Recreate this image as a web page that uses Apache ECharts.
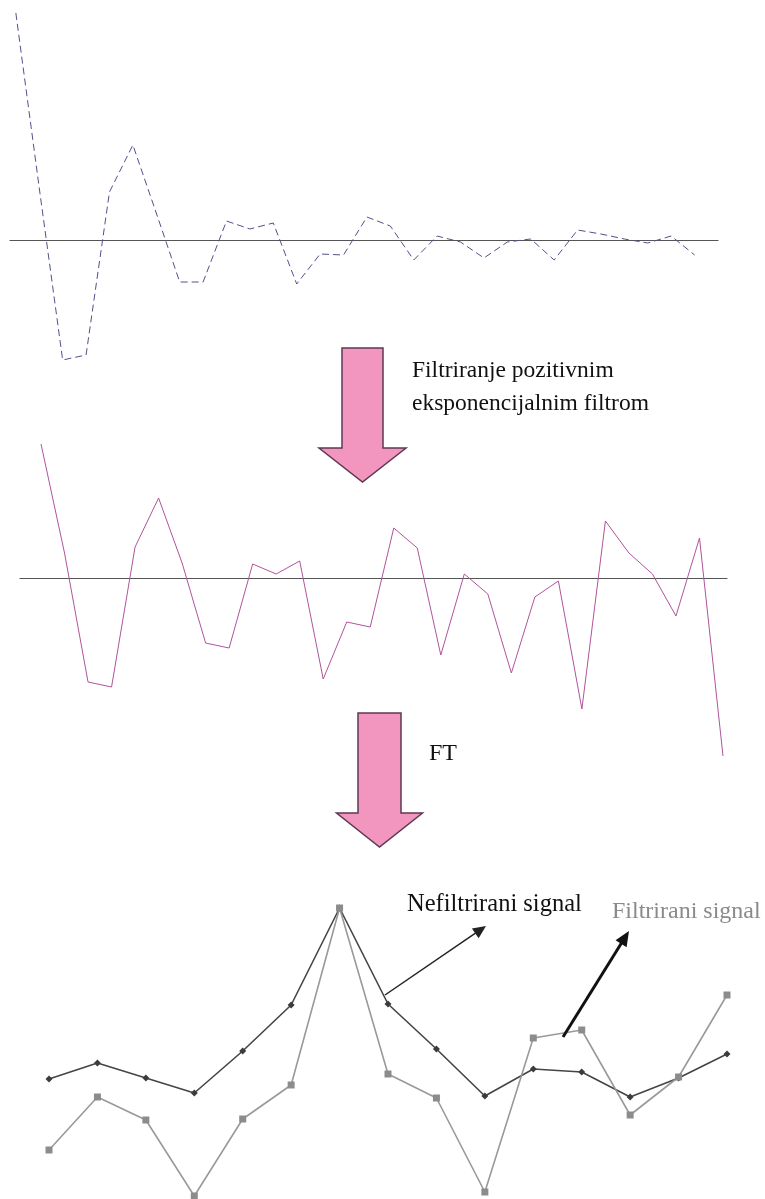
<!DOCTYPE html>
<html>
<head>
<meta charset="utf-8">
<script src="https://cdn.jsdelivr.net/npm/echarts@6/dist/echarts.min.js"></script>
<style>html,body{margin:0;padding:0;background:#fff}#c{width:765px;height:1199px}</style>
</head>
<body>
<div id="c"></div>
<script>
// Raw (unfiltered) time-domain signal, 30 samples
const rawSignal = [227, 52, -120, -115, 48, 95, 27, -42, -42, 19, 11, 17, -44, -14, -15, 23, 14, -20, 4, -2, -18, -2, 1, -20, 10, 6, 1, -3, 4, -15];
// Signal after positive exponential filter, 30 samples
const filteredSignal = [134, 25, -104, -109, 31, 80, 15, -65, -70, 14, 4, 17, -101, -44, -49, 50, 30, -77, 4, -16, -95, -19, -3, -131, 57, 25, 4, -38, 40, -178];
// Fourier spectra, 15 points
const spectrumUnfiltered = [120, 136, 121, 106, 148, 194, 291, 195, 150, 103, 130, 127, 102, 121, 145];
const spectrumFiltered = [49, 102, 79, 3, 80, 114, 291, 125, 101, 7, 161, 169, 84, 122, 204];

const labelStep1 = ['Filtriranje pozitivnim', 'eksponencijalnim filtrom'];
const labelStep2 = 'FT';
const labelUnfiltered = 'Nefiltrirani signal';
const labelFiltered = 'Filtrirani signal';

const idx = a => a.map((v, i) => [i, v]);
const chart = echarts.init(document.getElementById('c'), null, {renderer: 'canvas'});

function hiddenX(gi, min, max, showLine) {
  return {type: 'value', gridIndex: gi, min: min, max: max, show: true,
    axisLine: {show: showLine, onZero: true, lineStyle: {color: '#555', width: 1.2}},
    axisTick: {show: false}, axisLabel: {show: false}, splitLine: {show: false}};
}
function hiddenY(gi, min, max) {
  return {type: 'value', gridIndex: gi, min: min, max: max, show: false, splitLine: {show: false}};
}
function arrowLine(x1, y1, x2, y2, w, hl, hw, color) {
  const dx = x2 - x1, dy = y2 - y1, L = Math.hypot(dx, dy);
  const ux = dx / L, uy = dy / L, nx = -uy, ny = ux;
  const bx = x2 - ux * hl, by = y2 - uy * hl;
  return [
    {type: 'line', shape: {x1: x1, y1: y1, x2: bx + ux * 2, y2: by + uy * 2}, style: {stroke: color, lineWidth: w}, z: 50},
    {type: 'polygon', shape: {points: [[x2, y2], [bx + nx * hw, by + ny * hw], [bx - nx * hw, by - ny * hw]]}, style: {fill: color}, z: 50}
  ];
}
function bigArrow(cx, top, shaftW, headTop, headW, tip) {
  const s = shaftW / 2, h = headW / 2;
  return {type: 'polygon', z: 40,
    shape: {points: [[cx - s, top], [cx + s, top], [cx + s, headTop], [cx + h, headTop], [cx, tip], [cx - h, headTop], [cx - s, headTop]]},
    style: {fill: '#f296c0', stroke: '#5e3a52', lineWidth: 1.5}};
}
const serif = '"Liberation Serif", "DejaVu Serif", serif';
function txt(s, x, y, size, color) {
  return {type: 'text', x: x, y: y, z: 60, style: {text: s, font: size + 'px ' + serif, fill: color, align: 'left', verticalAlign: 'middle'}};
}

const option = {
  animation: false,
  backgroundColor: '#fff',
  grid: [
    {left: 10, width: 708, top: 0, height: 480},
    {left: 20, width: 707, top: 378, height: 400},
    {left: 49, width: 678, top: 899, height: 300}
  ],
  xAxis: [hiddenX(0, -0.25, 30, true), hiddenX(1, -0.893, 29.17, true), hiddenX(2, 0, 14, false)],
  yAxis: [hiddenY(0, -240, 240), hiddenY(1, -200, 200), hiddenY(2, 0, 300)],
  series: [
    {type: 'line', xAxisIndex: 0, yAxisIndex: 0, data: idx(rawSignal), symbol: 'none',
      lineStyle: {color: '#4f528a', width: 1, type: [7, 4]}},
    {type: 'line', xAxisIndex: 1, yAxisIndex: 1, data: idx(filteredSignal), symbol: 'none',
      lineStyle: {color: '#b0549c', width: 1}},
    {type: 'line', xAxisIndex: 2, yAxisIndex: 2, data: idx(spectrumUnfiltered), symbol: 'diamond', symbolSize: 7,
      itemStyle: {color: '#3c3c3c'}, lineStyle: {color: '#454545', width: 1.6}},
    {type: 'line', xAxisIndex: 2, yAxisIndex: 2, data: idx(spectrumFiltered), symbol: 'rect', symbolSize: 7,
      itemStyle: {color: '#8c8c8c'}, lineStyle: {color: '#999', width: 1.6}}
  ],
  graphic: [
    bigArrow(362.5, 348, 41, 448, 87, 482),
    bigArrow(379.5, 713, 43, 813, 86, 847),
    txt(labelStep1[0], 412, 371, 23.5, '#111'),
    txt(labelStep1[1], 412, 404, 23.5, '#111'),
    txt(labelStep2, 429, 754, 24, '#111'),
    txt(labelUnfiltered, 407, 905, 24.5, '#111'),
    txt(labelFiltered, 612, 912, 24, '#8a8a8a'),
    ...arrowLine(385, 995, 486, 926, 1.5, 13, 6, '#222'),
    ...arrowLine(563, 1037, 629, 931, 3, 15, 6.5, '#111')
  ]
};
chart.setOption(option);
</script>
</body>
</html>
